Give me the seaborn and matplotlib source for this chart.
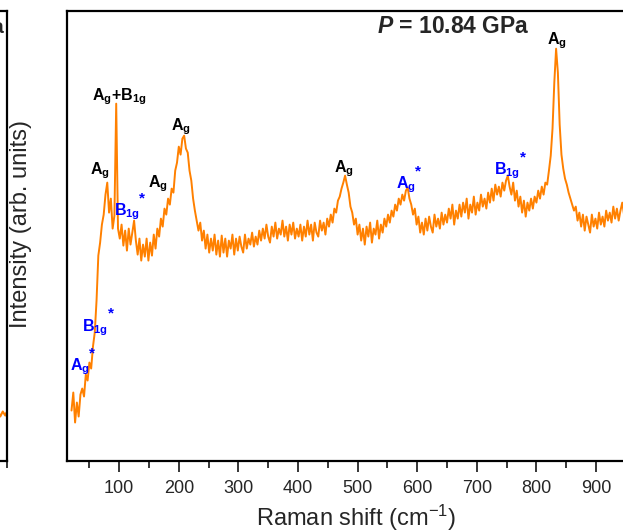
import numpy as np
import matplotlib
matplotlib.use("Agg")
import matplotlib.pyplot as plt
import seaborn as sns
import pandas as pd

# ---------------- data ----------------
intensity = [
    50, 68, 38, 58, 44, 66, 72, 64, 86, 80, 98, 92, 114, 128, 160, 205, 218, 236, 246, 266,
    278, 248, 262, 232, 245, 357, 232, 222, 236, 215, 230, 210, 232, 216, 228, 240, 220, 206, 222, 200,
    216, 204, 222, 200, 218, 205, 226, 212, 232, 224, 242, 234, 252, 246, 262, 256, 272, 268, 290, 298,
    314, 306, 322, 325, 312, 308, 290, 280, 262, 250, 240, 230, 238, 220, 230, 212, 226, 208, 222, 210,
    226, 206, 220, 204, 225, 208, 222, 204, 220, 212, 226, 206, 222, 210, 224, 214, 208, 226, 212, 222,
    216, 228, 214, 224, 216, 230, 220, 232, 222, 236, 224, 218, 234, 224, 238, 222, 232, 226, 240, 224,
    234, 220, 236, 226, 238, 222, 232, 224, 236, 220, 234, 224, 240, 226, 236, 220, 238, 228, 224, 240,
    230, 238, 226, 242, 234, 246, 238, 252, 248, 260, 264, 272, 278, 285, 276, 268, 254, 248, 236, 242,
    226, 236, 220, 232, 216, 234, 224, 238, 218, 232, 226, 240, 222, 236, 228, 242, 234, 246, 238, 250,
    244, 256, 250, 262, 256, 266, 260, 270, 273, 262, 256, 246, 252, 236, 244, 228, 238, 226, 242, 230,
    244, 234, 228, 246, 234, 242, 232, 248, 236, 246, 238, 252, 242, 256, 236, 250, 242, 256, 244, 258,
    248, 262, 242, 256, 248, 264, 246, 258, 250, 266, 254, 262, 252, 268, 258, 272, 260, 276, 266, 274,
    264, 278, 270, 280, 285, 274, 266, 278, 260, 270, 254, 264, 248, 260, 244, 258, 250, 262, 252, 264,
    258, 270, 262, 274, 266, 278, 276, 290, 305, 332, 378, 412, 388, 336, 306, 292, 282, 276, 268, 262,
    256, 250, 254, 240, 248, 234, 246, 230, 244, 236, 228, 246, 234, 242, 232, 248, 236, 244, 234, 250,
    240, 248, 238, 254, 242, 252, 240, 250, 258, 246, 254, 246, 256, 250,
]
shift_start, shift_step = 20, 3
raman_shift = shift_start + shift_step * np.arange(len(intensity))

# fragment of the neighbouring panel (only its right edge is visible)
left_shift = [955, 965, 975, 985, 995, 1000]
left_intensity = [46, 50, 44, 49, 45, 48]

tick_values = [100, 200, 300, 400, 500, 600, 700, 800, 900]

peak_labels = [r"$\mathbf{A_g}$", r"$\mathbf{B_{1g}}$", r"$\mathbf{A_g}$", r"$\mathbf{A_g{+}B_{1g}}$",
               r"$\mathbf{B_{1g}}$", r"$\mathbf{A_g}$", r"$\mathbf{A_g}$", r"$\mathbf{A_g}$",
               r"$\mathbf{A_g}$", r"$\mathbf{B_{1g}}$", r"$\mathbf{A_g}$"]
peak_x = [34, 59, 67, 100, 113, 165, 204, 477, 581, 751, 835]
peak_y = [94, 133, 290, 364, 249, 277, 334, 292, 276, 290, 420]
peak_colors = ["blue", "blue", "black", "black", "blue", "black", "black", "black",
               "blue", "blue", "black"]
star_x = [54, 86, 139, 601, 778]
star_y = [107, 147, 262, 289, 303]

# ---------------- style ----------------
sns.set_style("ticks")
plt.rcParams["font.family"] = ["Liberation Sans", "DejaVu Sans"]
plt.rcParams["mathtext.fontset"] = "custom"
plt.rcParams["mathtext.rm"] = "Liberation Sans"
plt.rcParams["mathtext.it"] = "Liberation Sans:italic"
plt.rcParams["mathtext.bf"] = "Liberation Sans:bold"
plt.rcParams["mathtext.bfit"] = "Liberation Sans:italic:bold"

orange = "#ff8000"

fig = plt.figure(figsize=(6.23, 5.32), dpi=100)
W, H = 623, 532
ax_left_px, ax_top_px, ax_bot_px = 66.5, 10.7, 460.5
ax_w_px = 579

# neighbouring panel fragment (drawn first, transparent background)
axl_w = 250
axl = fig.add_axes([(6.5 - axl_w) / W, (H - ax_bot_px) / H, axl_w / W, (ax_bot_px - ax_top_px) / H])
axl.patch.set_alpha(0)
sns.lineplot(x=left_shift, y=left_intensity, ax=axl, color=orange, lw=1.5, estimator=None, sort=False)
axl.set_xlim(0, 1000)
axl.set_ylim(0, 450)
axl.set_xticks([1000])
axl.set_xticklabels([""])
axl.set_yticks([])
axl.set_xlabel("")
axl.set_ylabel("")
axl.tick_params(axis="x", length=5, width=1.3)
for s in axl.spines.values():
    s.set_linewidth(1.6)
    s.set_color("black")
fig.text(3.5 / W, 1 - 33 / H, "GPa", fontsize=15, fontweight="bold", ha="right", va="baseline")

ax = fig.add_axes([ax_left_px / W, (H - ax_bot_px) / H, ax_w_px / W, (ax_bot_px - ax_top_px) / H])
ax.patch.set_alpha(0)

df = pd.DataFrame({"shift": raman_shift, "intensity": intensity})
sns.lineplot(data=df, x="shift", y="intensity", ax=ax, color=orange, lw=1.4,
             estimator=None, sort=False)

ax.set_xlim(11.6, 983)
ax.set_ylim(0, 450)
ax.set_xticks(tick_values)
ax.set_xticks([50 + 100 * i for i in range(10)], minor=True)
ax.set_yticks([])
ax.tick_params(axis="x", which="major", length=8, width=1.3, labelsize=13, pad=6, direction="out")
ax.tick_params(axis="x", which="minor", length=5, width=1.3, direction="out")
for s in ax.spines.values():
    s.set_linewidth(1.6)
    s.set_color("black")

ax.set_xlabel(r"Raman shift (cm$^{-1}$)", fontsize=17)
ax.set_ylabel("Intensity (arb. units)", fontsize=17)
ax.yaxis.set_label_coords((32 - ax_left_px) / ax_w_px, 0.526)

for lab, px, py, col in zip(peak_labels, peak_x, peak_y, peak_colors):
    ax.text(px, py, lab, color=col, fontsize=11.5, ha="center", va="center")
for sx, sy in zip(star_x, star_y):
    ax.text(sx, sy, "*", color="blue", fontsize=11, fontweight="bold", ha="center", va="center")

ax.text((453.5 - ax_left_px) / ax_w_px, (ax_bot_px - 33) / (ax_bot_px - ax_top_px),
        r"$\mathbfit{P}$ = 10.84 GPa", transform=ax.transAxes, fontsize=16.5,
        fontweight="bold", ha="center", va="baseline")

fig.savefig("out.png", dpi=100)
